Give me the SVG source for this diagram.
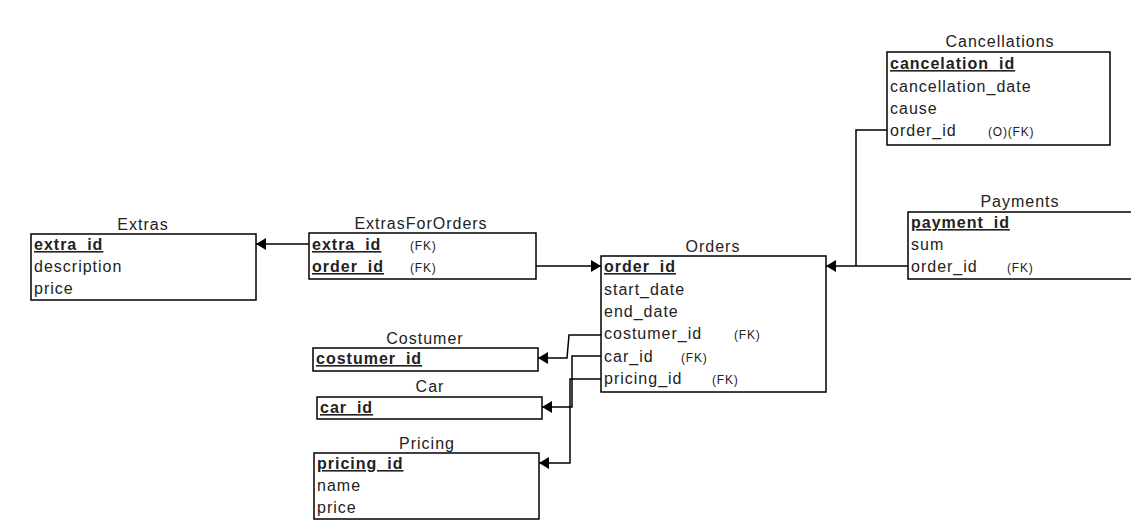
<svg xmlns="http://www.w3.org/2000/svg" width="1131" height="529" viewBox="0 0 1131 529">
<style>
.box{fill:#fff;stroke:#000;stroke-width:1.5}
.t{font-family:"Liberation Sans",Arial,sans-serif;font-size:16px;fill:#222;letter-spacing:1px}
.pk{font-weight:bold;text-decoration:underline}
.title{text-anchor:middle}
.fk{font-family:"Liberation Sans",Arial,sans-serif;font-size:12px;fill:#222;letter-spacing:0.8px}
.c{fill:none;stroke:#000;stroke-width:1.5}
</style>
<defs>
<marker id="arr" viewBox="0 0 10 12" refX="10" refY="6" markerWidth="10" markerHeight="12" markerUnits="userSpaceOnUse" orient="auto">
<path d="M0,0 L10,6 L0,12 Z" fill="#000"/>
</marker>
</defs>
<rect width="1131" height="529" fill="#fff"/>
<g id="connectors">
<path class="c" d="M309,244 H256" marker-end="url(#arr)"/>
<path class="c" d="M536,266 H601" marker-end="url(#arr)"/>
<path class="c" d="M908,266 H826" marker-end="url(#arr)"/>
<path class="c" d="M887,130 H856 V266"/>
<path class="c" d="M601,335 H569 L567,358 H538" marker-end="url(#arr)"/>
<path class="c" d="M601,356 H572 V407 H542" marker-end="url(#arr)"/>
<path class="c" d="M601,379 H570 V463 H539" marker-end="url(#arr)"/>
</g>
<g id="extras">
<text class="t title" x="143" y="230">Extras</text>
<rect class="box" x="31" y="234" width="225" height="66"/>
<text class="t pk" x="34" y="250">extra_id</text>
<text class="t" x="34" y="272">description</text>
<text class="t" x="34" y="294">price</text>
</g>
<g id="extrasfororders">
<text class="t title" x="421" y="229">ExtrasForOrders</text>
<rect class="box" x="309" y="233" width="227" height="46"/>
<text class="t pk" x="312" y="250">extra_id</text>
<text class="fk" x="410" y="250">(FK)</text>
<text class="t pk" x="312" y="272">order_id</text>
<text class="fk" x="410" y="272">(FK)</text>
</g>
<g id="orders">
<text class="t title" x="713" y="252">Orders</text>
<rect class="box" x="601" y="256" width="225" height="136"/>
<text class="t pk" x="604" y="272">order_id</text>
<text class="t" x="604" y="295">start_date</text>
<text class="t" x="604" y="317">end_date</text>
<text class="t" x="604" y="339">costumer_id</text>
<text class="fk" x="734" y="339">(FK)</text>
<text class="t" x="604" y="362">car_id</text>
<text class="fk" x="681" y="362">(FK)</text>
<text class="t" x="604" y="384">pricing_id</text>
<text class="fk" x="712" y="384">(FK)</text>
</g>
<g id="cancellations">
<text class="t title" x="1000" y="47">Cancellations</text>
<rect class="box" x="887" y="52" width="223" height="93"/>
<text class="t pk" x="890" y="69">cancelation_id</text>
<text class="t" x="890" y="92">cancellation_date</text>
<text class="t" x="890" y="114">cause</text>
<text class="t" x="890" y="136">order_id</text>
<text class="fk" x="988" y="136">(O)(FK)</text>
</g>
<g id="payments">
<text class="t title" x="1020" y="207">Payments</text>
<rect class="box" x="908" y="212" width="230" height="67"/>
<text class="t pk" x="911" y="228">payment_id</text>
<text class="t" x="911" y="250">sum</text>
<text class="t" x="911" y="272">order_id</text>
<text class="fk" x="1007" y="272">(FK)</text>
</g>
<g id="costumer">
<text class="t title" x="425" y="344">Costumer</text>
<rect class="box" x="313" y="348" width="225" height="23"/>
<text class="t pk" x="316" y="364">costumer_id</text>
</g>
<g id="car">
<text class="t title" x="430" y="392">Car</text>
<rect class="box" x="317" y="397" width="225" height="22"/>
<text class="t pk" x="320" y="413">car_id</text>
</g>
<g id="pricing">
<text class="t title" x="427" y="449">Pricing</text>
<rect class="box" x="314" y="453" width="225" height="66"/>
<text class="t pk" x="317" y="469">pricing_id</text>
<text class="t" x="317" y="491">name</text>
<text class="t" x="317" y="513">price</text>
</g>
</svg>
